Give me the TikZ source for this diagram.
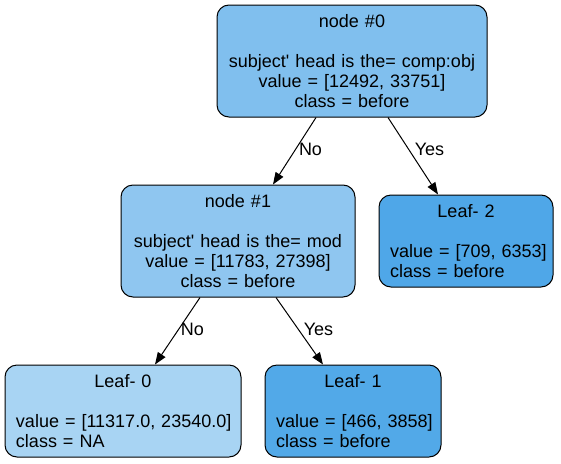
\documentclass[tikz,border=0pt]{standalone}
\usepackage{fontspec}
\setmainfont{Liberation Sans}[Ligatures=TeXOff]
\usetikzlibrary{arrows.meta,calc}
\definecolor{cA}{RGB}{128,191,238}
\definecolor{cB}{RGB}{143,198,240}
\definecolor{cC}{RGB}{168,212,243}
\definecolor{cD}{RGB}{82,169,232}
\definecolor{cE}{RGB}{79,167,232}
\tikzset{
  box/.style={draw=black, line width=1pt, rounded corners=12pt, inner xsep=11pt, inner ysep=0pt,
    font=\fontsize{18}{20}\selectfont, anchor=center},
  splitbox/.style={box, align=center},
  leafbox/.style={box, align=left},
  edge/.style={draw=black, line width=1pt, -{Triangle[length=12pt,width=9pt]}},
  elabel/.style={font=\fontsize{18}{20}\selectfont, inner sep=0pt}
}
\hfuzz=20pt
\begin{document}
\begin{tikzpicture}[x=1pt,y=-1pt]
\useasboundingbox (0,0) rectangle (561,463);
\node[splitbox, fill=cA, text width=248pt, minimum height=112pt] (n0) at (352,61)
  {node \#0\\\strut\\subject' head is the= comp:obj\\value = [12492, 33751]\\class = before};
\node[splitbox, fill=cB, text width=212pt, minimum height=112pt] (n1) at (238,241)
  {node \#1\\\strut\\subject' head is the= mod\\value = [11783, 27398]\\class = before};
\node[leafbox, fill=cE, text width=152pt, minimum height=92pt] (l2) at (466,241)
  {\makebox[\linewidth][c]{Leaf- 2}\\\strut\\\mbox{value = [709, 6353]}\\\mbox{class = before}};
\node[leafbox, fill=cC, text width=214pt, minimum height=92pt] (l0) at (123,411)
  {\makebox[\linewidth][c]{Leaf- 0}\\\strut\\\mbox{value = [11317.0, 23540.0]}\\\mbox{class = NA}};
\node[leafbox, fill=cD, text width=154pt, minimum height=92pt] (l1) at (353,411)
  {\makebox[\linewidth][c]{Leaf- 1}\\\strut\\\mbox{value = [466, 3858]}\\\mbox{class = before}};
\draw[edge] ($(n0.south)+(-36,0)$) -- ($(n1.north)+(35,0)$);
\draw[edge] ($(n0.south)+(36,0)$) -- ($(l2.north)+(-28,0)$);
\draw[edge] ($(n1.south)+(-38,0)$) -- ($(l0.north)+(32,0)$);
\draw[edge] ($(n1.south)+(38,0)$) -- ($(l1.north)+(-30,0)$);
\node[elabel] (e1) at (310.5,149) {No};
\node[elabel] (e2) at (429.5,149) {Yes};
\node[elabel] (e3) at (192.5,329) {No};
\node[elabel] (e4) at (318.5,329) {Yes};
\end{tikzpicture}
\end{document}
